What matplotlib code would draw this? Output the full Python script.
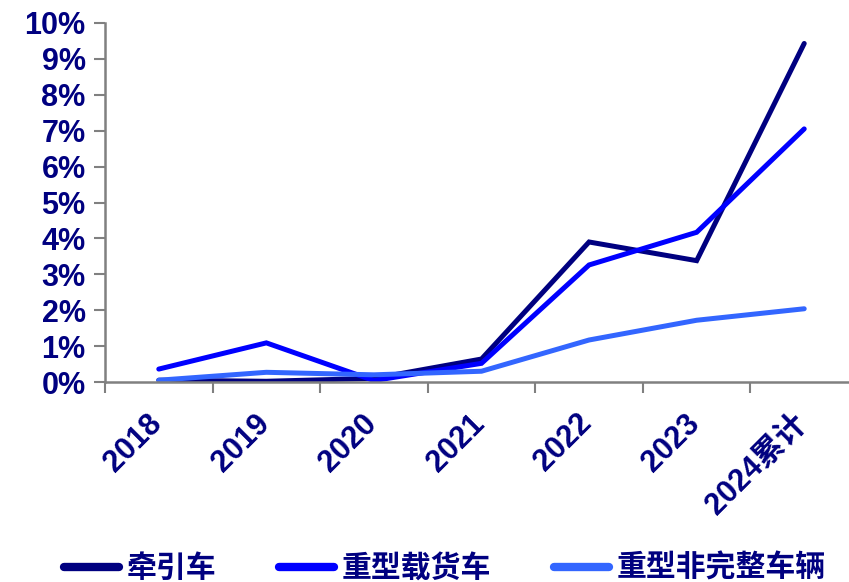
import matplotlib.pyplot as plt
from matplotlib.ticker import PercentFormatter
from matplotlib.transforms import ScaledTranslation

plt.rcParams['font.family'] = ['Liberation Sans', 'Noto Sans CJK SC', 'DejaVu Sans']

# 数据
years = ['2018', '2019', '2020', '2021', '2022', '2023', '2024累计']
qianyin = [0.05, 0.02, 0.10, 0.64, 3.90, 3.38, 9.43]
zaihuo = [0.36, 1.09, 0.04, 0.52, 3.26, 4.17, 7.05]
feiwanzheng = [0.05, 0.27, 0.20, 0.30, 1.17, 1.72, 2.04]

names = ['牵引车', '重型载货车', '重型非完整车辆']
colors = ['#000080', '#0000FF', '#3366FF']
navy = '#000080'

fig = plt.figure(figsize=(8.49, 5.82), dpi=100)
ax = fig.add_axes([105 / 849, 1 - 382 / 582, 753 / 849, 359 / 582])

x = range(len(years))
for vals, name, c in zip([qianyin, zaihuo, feiwanzheng], names, colors):
    ax.plot(x, [v / 100 for v in vals], color=c, lw=3.6, label=name,
            solid_capstyle='round', solid_joinstyle='miter')

ax.set_xlim(-0.5, len(years) - 0.5)
ax.set_ylim(0, 0.10)
ax.set_yticks([i / 100 for i in range(11)])
ax.yaxis.set_major_formatter(PercentFormatter(1.0, decimals=0))

# x轴刻度线在类别之间，标签在类别中心
ax.set_xticks([i - 0.5 for i in range(len(years) + 1)])
ax.set_xticklabels([])
ax.set_xticks(list(x), minor=True)
ax.set_xticklabels(years, minor=True, rotation=45, ha='right',
                   fontsize=22, fontweight='bold', color=navy)
ax.tick_params(axis='x', which='minor', length=0, pad=19)
ax.tick_params(axis='x', which='major', direction='out', length=8,
               width=1.5, color='#808080')
shift = ScaledTranslation(9 / 100, 0, fig.dpi_scale_trans)
for lab in ax.get_xticklabels(minor=True):
    lab.set_transform(lab.get_transform() + shift)
ax.tick_params(axis='y', direction='out', length=8, width=1.5,
               color='#808080', labelsize=22, labelcolor=navy, pad=6)
for lab in ax.get_yticklabels():
    lab.set_fontweight('bold')

for s in ['top', 'right']:
    ax.spines[s].set_visible(False)
for s in ['left', 'bottom']:
    ax.spines[s].set_color('#808080')
    ax.spines[s].set_linewidth(1.8)

handles, labels = ax.get_legend_handles_labels()
leg = fig.legend(handles, labels, loc='center', bbox_to_anchor=(445 / 849, 14 / 582),
                 ncol=3, frameon=False, handlelength=1.85, handletextpad=0.25,
                 columnspacing=2.1, borderaxespad=0,
                 prop={'family': 'Noto Sans CJK SC', 'size': 21.5, 'weight': 'bold'})
for t in leg.get_texts():
    t.set_color(navy)
for l in leg.get_lines():
    l.set_linewidth(6)
    l.set_solid_capstyle('round')

fig.savefig('out.png', dpi=100)
